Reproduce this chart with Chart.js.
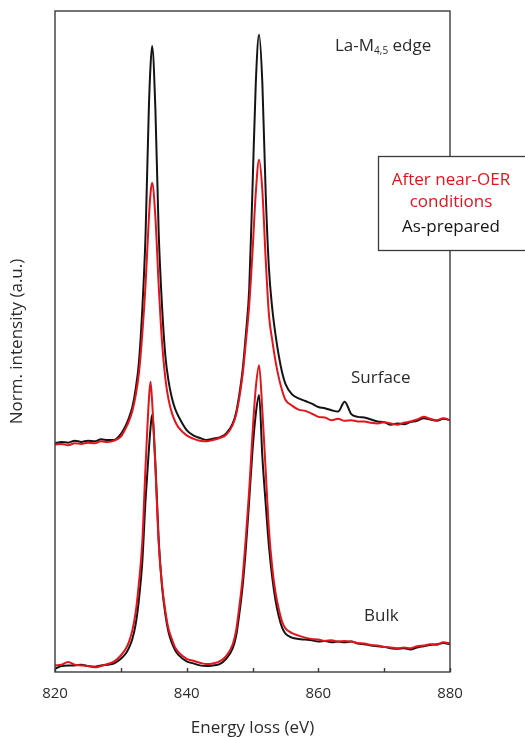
<!DOCTYPE html>
<html>
<head>
<meta charset="utf-8">
<script src="https://cdn.jsdelivr.net/npm/chart.js@4.4.1/dist/chart.umd.min.js"></script>
<style>
  html, body { margin: 0; padding: 0; background: #fff; }
  #wrap { width: 525px; height: 738px; }
</style>
</head>
<body>
<div id="wrap"><canvas id="eels" width="525" height="738"></canvas></div>
<script>
// La-M4,5 EELS spectra, surface vs bulk, as-prepared vs after near-OER.
// Surface traces sit on an offset of ~35 so the two pairs stack.
const energy = [
  820, 821, 822, 823, 824, 825, 826, 827, 828, 829, 830,
  830.75, 831.25, 831.75, 832.25, 832.75, 833.25, 833.75, 834.25, 834.5, 834.75,
  835.25, 835.75, 836.25, 836.75, 837.25, 837.75, 838.25, 838.75,
  840, 841, 842, 843, 844, 845, 846,
  847, 847.5, 848, 848.5, 849, 849.5, 850, 850.5, 851, 851.5, 852, 852.5, 853, 853.5, 854, 854.5, 855,
  856, 857, 858, 859, 860, 861, 862, 863, 864, 865, 866, 867, 868, 869, 870,
  871, 872, 873, 874, 875, 876, 877, 878, 879, 880
];

const surfaceAsPrepared = [
  34.6, 34.8, 34.7, 35.0, 34.8, 35.0, 34.9, 35.2, 35.1, 35.1, 36.0,
  37.3, 38.5, 40.1, 42.8, 46.9, 54.7, 66.0, 85.1, 91.5, 94.7,
  85.1, 66.5, 55.5, 48.0, 44.0, 41.5, 39.8, 38.7,
  36.6, 35.8, 35.4, 35.1, 35.3, 35.5, 36.1,
  37.6, 39.2, 42.0, 45.7, 51.2, 57.9, 73.2, 89.1, 96.4, 89.0, 72.5, 61.0, 55.0, 51.0, 47.8, 45.3, 43.6,
  42.0, 41.4, 41.0, 40.6, 40.1, 39.9, 39.6, 39.4, 40.9, 39.0, 38.6, 38.5, 38.2, 37.9, 37.8,
  37.4, 37.6, 37.5, 37.8, 38.0, 38.4, 38.2, 38.0, 38.3, 38.1
];

const surfaceAfterOER = [
  34.4, 34.5, 34.3, 34.6, 34.5, 34.7, 34.6, 34.9, 34.8, 35.0, 35.6,
  36.9, 38.0, 39.5, 41.8, 45.2, 51.0, 58.5, 68.5, 72.3, 74.0,
  68.8, 58.5, 50.0, 44.5, 41.2, 39.2, 37.9, 37.0,
  35.8, 35.3, 35.0, 34.9, 35.1, 35.4, 35.9,
  37.4, 38.9, 41.5, 45.0, 50.0, 55.5, 63.5, 72.5, 77.5, 72.8, 62.5, 54.0, 50.2, 47.0, 44.5, 42.6, 41.2,
  40.3, 39.7, 39.5, 39.1, 38.6, 38.5, 38.1, 38.3, 38.0, 38.1, 37.9, 37.9, 37.7, 37.6, 37.8,
  37.6, 37.4, 37.7, 37.9, 38.2, 38.6, 38.3, 38.1, 38.4, 38.1
];

const bulkAsPrepared = [
  0.5, 0.9, 1.0, 1.0, 1.1, 0.9, 0.8, 1.0, 1.1, 1.3, 2.0,
  2.8, 3.7, 5.0, 7.2, 11.0, 16.5, 26.0, 33.5, 36.8, 38.9,
  31.5, 20.0, 13.0, 8.8, 6.0, 4.4, 3.3, 2.6,
  1.6, 1.3, 1.0, 0.9, 1.0, 1.2, 2.0,
  3.6, 5.4, 8.8, 13.0, 18.8, 26.0, 33.5, 39.0, 41.9, 32.5, 25.5, 19.0, 14.3, 10.8, 8.4, 6.7, 5.8,
  5.2, 5.0, 4.9, 4.8, 4.6, 4.7, 4.5, 4.6, 4.5, 4.6, 4.3, 4.2, 4.0, 3.9, 3.8,
  3.6, 3.5, 3.6, 3.4, 3.7, 3.9, 4.1, 4.2, 4.4, 4.2
];

const bulkAfterOER = [
  1.0, 1.1, 1.5, 1.1, 1.0, 0.9, 0.7, 0.9, 1.2, 1.6, 2.5,
  3.5, 4.6, 6.3, 9.0, 13.5, 19.5, 31.0, 41.0, 43.9, 41.0,
  31.0, 19.5, 13.3, 9.3, 6.5, 5.0, 3.7, 3.0,
  2.0, 1.7, 1.4, 1.2, 1.3, 1.6, 2.4,
  4.2, 6.2, 9.9, 14.3, 20.5, 27.5, 36.0, 43.0, 46.4, 39.5, 30.5, 21.5, 15.8, 12.0, 9.5, 7.6, 6.6,
  5.9, 5.5, 5.2, 5.0, 4.9, 4.7, 4.8, 4.6, 4.7, 4.6, 4.4, 4.3, 4.1, 4.0, 3.8,
  3.7, 3.6, 3.7, 3.6, 3.9, 4.0, 4.2, 4.1, 4.5, 4.3
];

const labelledTicks = [820, 840, 860, 880];

const RED = '#e3141b';
const BLACK = '#141414';
const INK = '#2b2b2b';
const FONT = '"Open Sans", "Noto Sans", sans-serif';

function pts(ys) {
  return energy.map((e, i) => ({ x: e, y: ys[i] }));
}

function trace(label, ys, color) {
  return {
    label, data: pts(ys), borderColor: color, backgroundColor: color,
    borderWidth: 2, pointRadius: 0, cubicInterpolationMode: 'monotone', fill: false,
  };
}

// frame, inward ticks, legend box and text annotations
const decor = {
  id: 'decor',
  afterDatasetsDraw(chart) {
    const { ctx, chartArea: a, scales: { x } } = chart;
    ctx.save();
    ctx.strokeStyle = '#3a3a3a';
    ctx.lineWidth = 1.4;
    ctx.strokeRect(a.left, a.top, a.right - a.left, a.bottom - a.top);
    x.ticks.forEach(t => {
      const px = Math.round(x.getPixelForValue(t.value)) + 0.5;
      ctx.beginPath();
      ctx.moveTo(px, a.bottom);
      ctx.lineTo(px, a.bottom - 4);
      ctx.stroke();
    });

    // legend box overlapping the right edge of the frame
    ctx.fillStyle = '#fff';
    ctx.fillRect(378, 156, 150, 94);
    ctx.lineWidth = 1.3;
    ctx.strokeRect(378.5, 156.5, 150, 94);

    ctx.textAlign = 'center';
    ctx.textBaseline = 'middle';
    ctx.font = '17px ' + FONT;
    ctx.fillStyle = RED;
    ctx.fillText('After near-OER', 451, 180);
    ctx.fillText('conditions', 451, 202);
    ctx.fillStyle = BLACK;
    ctx.fillText('As-prepared', 451, 227);

    // annotations
    ctx.textAlign = 'left';
    ctx.fillStyle = INK;
    ctx.textBaseline = 'alphabetic';
    let tx = 335;
    ctx.font = '17px ' + FONT;
    ctx.fillText('La-M', tx, 51);
    tx += ctx.measureText('La-M').width;
    ctx.font = '10px ' + FONT;
    ctx.fillText('4,5', tx, 54);
    tx += ctx.measureText('4,5').width;
    ctx.font = '17px ' + FONT;
    ctx.fillText(' edge', tx, 51);

    ctx.textBaseline = 'middle';
    ctx.fillText('Surface', 351, 378);
    ctx.fillText('Bulk', 364, 616);
    ctx.restore();
  }
};

new Chart(document.getElementById('eels'), {
  type: 'line',
  data: {
    datasets: [
      trace('Surface, after near-OER', surfaceAfterOER, RED),
      trace('Bulk, after near-OER', bulkAfterOER, RED),
      trace('Surface, as-prepared', surfaceAsPrepared, BLACK),
      trace('Bulk, as-prepared', bulkAsPrepared, BLACK),
    ],
  },
  options: {
    responsive: false,
    animation: false,
    layout: { padding: { top: 11, right: 75, left: 0, bottom: 0 } },
    plugins: { legend: { display: false }, tooltip: { enabled: false } },
    scales: {
      x: {
        type: 'linear', min: 820, max: 880,
        afterFit: (s) => { s.height = 66; },
        grid: { display: false, drawTicks: false },
        border: { display: false },
        ticks: {
          stepSize: 10, padding: 13, color: INK, autoSkip: false, maxRotation: 0,
          font: { family: FONT, size: 15 },
          callback: (v) => labelledTicks.includes(v) ? String(v) : '',
        },
        title: {
          display: true, text: 'Energy loss (eV)', color: INK,
          font: { family: FONT, size: 17 }, padding: { top: 0, bottom: 0 },
        },
      },
      y: {
        min: 0, max: 100,
        afterFit: (s) => { s.width = 55; },
        grid: { display: false, drawTicks: false },
        border: { display: false },
        ticks: { display: false },
        title: {
          display: true, text: 'Norm. intensity (a.u.)', color: INK,
          font: { family: FONT, size: 17 }, padding: { top: 7, bottom: 0 },
        },
      },
    },
  },
  plugins: [decor],
});
</script>
</body>
</html>
